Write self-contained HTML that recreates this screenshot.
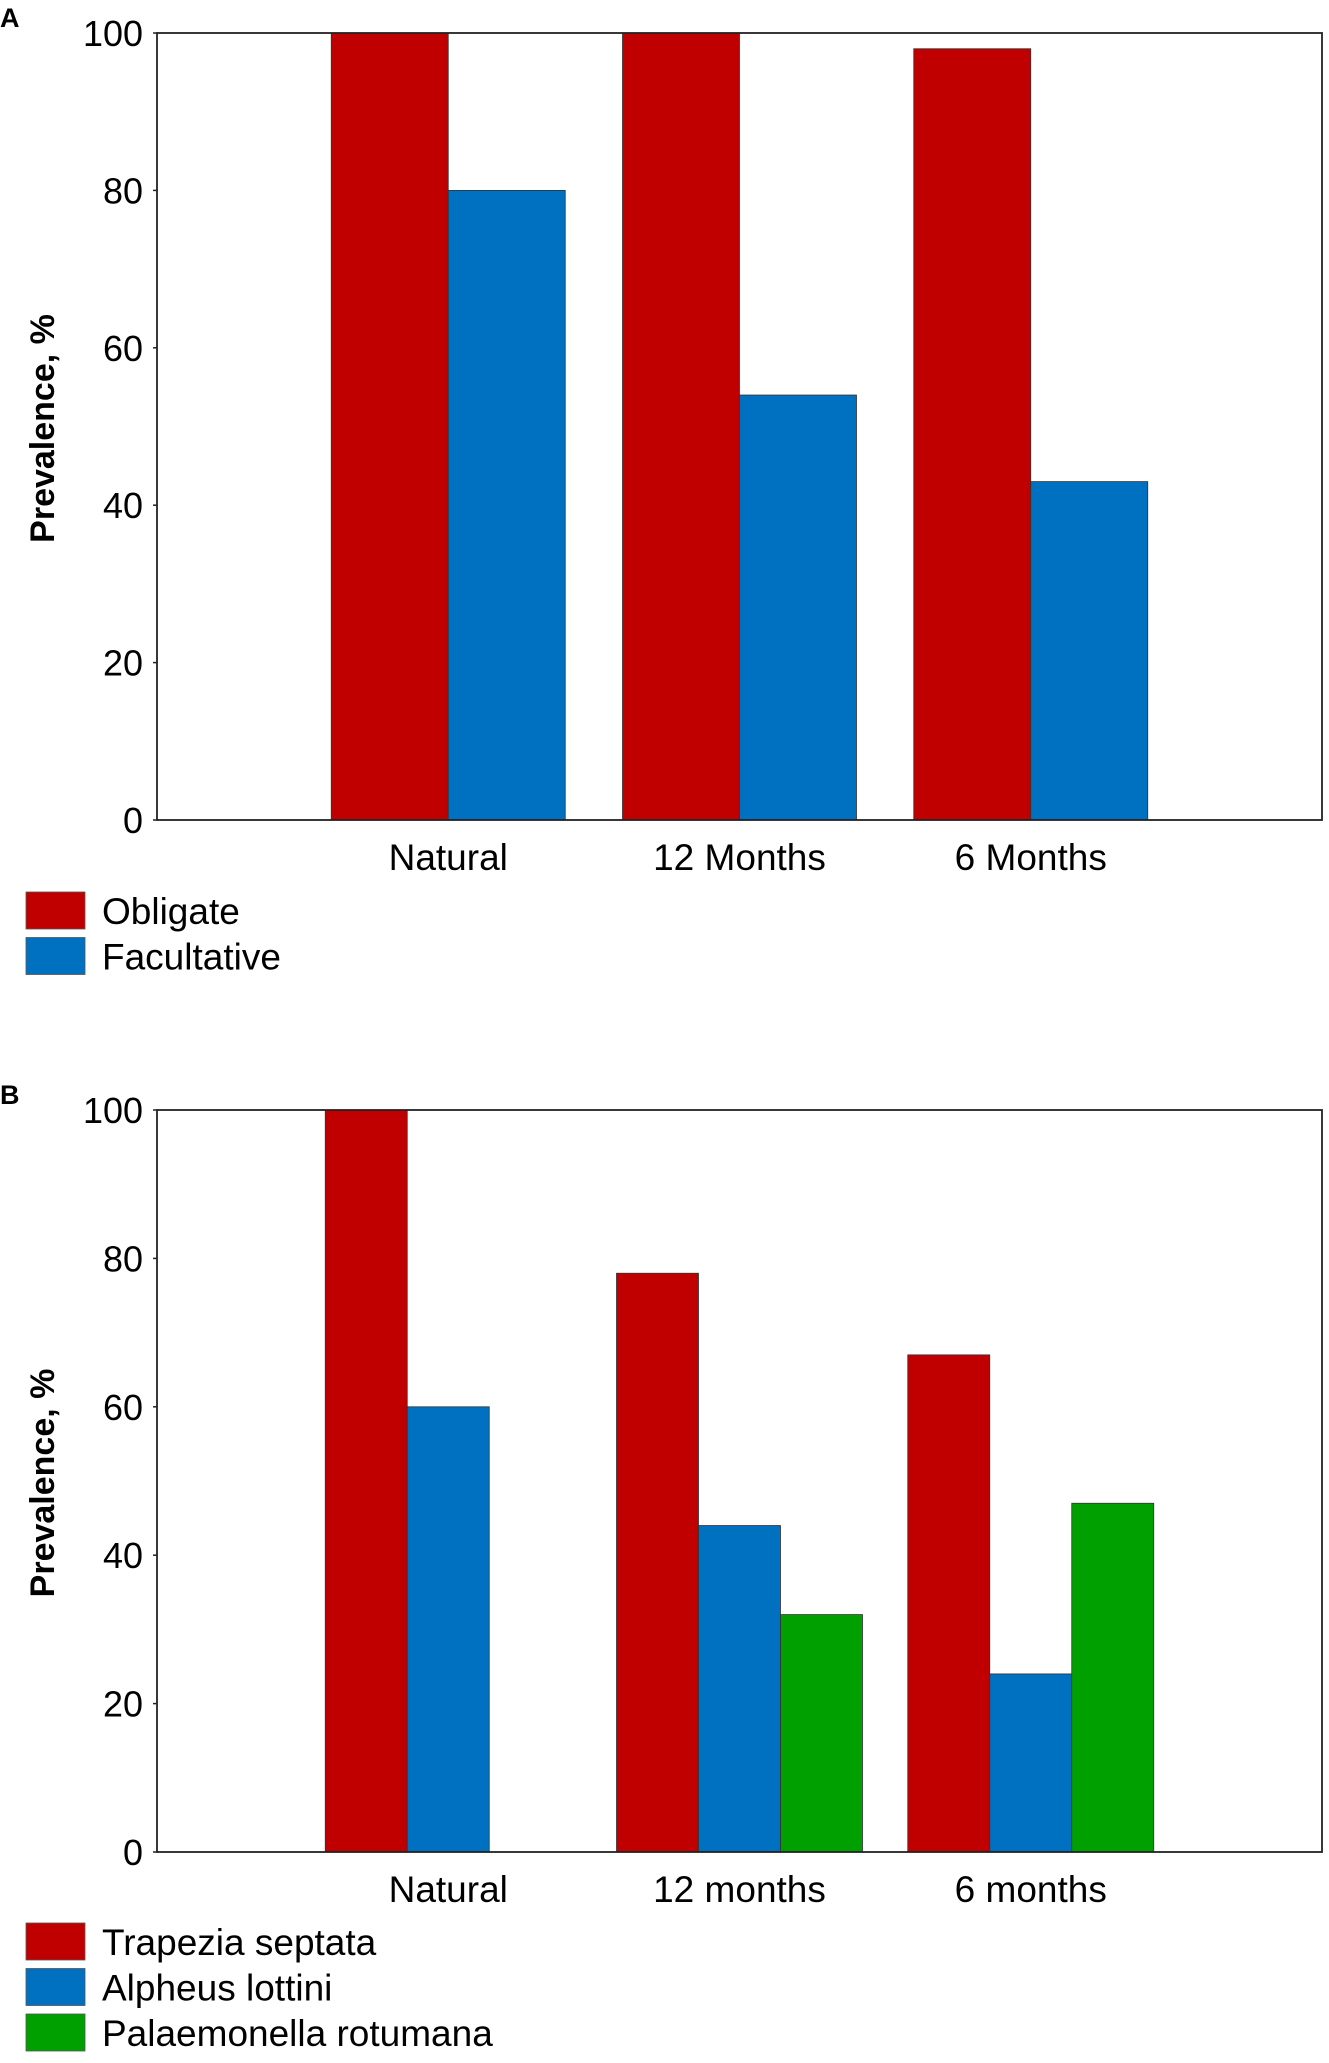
<!DOCTYPE html>
<html><head><meta charset="utf-8"><style>
body{margin:0;background:#fff;}
svg text{font-family:"Liberation Sans",Arial,sans-serif;}
</style></head><body>
<svg id="chart" width="1329" height="2058" viewBox="0 0 1329 2058" xmlns="http://www.w3.org/2000/svg">
<rect width="1329" height="2058" fill="#fff"/>
</svg>
<script>
const catsA = ["Natural","12 Months","6 Months"];
const obligate = [100,100,98];
const facultative = [80,54,43];
const catsB = ["Natural","12 months","6 months"];
const trapezia = [100,78,67];
const alpheus = [60,44,24];
const palaemonella = [0,32,47];
const yTicks = [0,20,40,60,80,100];

const NS="http://www.w3.org/2000/svg";
const svg=document.getElementById('chart');
function mk(tag,attrs,parent){const e=document.createElementNS(NS,tag);for(const k in attrs)e.setAttribute(k,attrs[k]);(parent||svg).appendChild(e);return e;}

function panel(cfg){
  const g=mk('g',{});
  
  
  const L=157,R=1322,T=cfg.top,B=cfg.bottom;
  const y=v=>B-(v/100)*(B-T);
  const step=(R-L)/4;
  const x=i=>L+step*(i+1);
  const pl=mk('text',{x:0,y:T-6,'font-size':27,'font-weight':'bold'},g);pl.textContent=cfg.letter;
  
  
  const n=cfg.series.length;
  const bw=cfg.bw;
  cfg.series.forEach((s,si)=>{
    s.values.forEach((v,ci)=>{
      if(v<=0)return;
      const x0=x(ci)-bw*n/2+si*bw;
      const r=mk('rect',{x:x0,y:y(v),width:bw,height:B-y(v),fill:s.color,stroke:'#333','stroke-width':0.8},g);
      
      
    });
  });
  const fr=mk('rect',{x:L,y:T,width:R-L,height:B-T,fill:'none',stroke:'#222','stroke-width':1.8},g);
  
  
  yTicks.forEach(t=>{
    mk('line',{x1:L-4,x2:L,y1:y(t),y2:y(t),stroke:'#222','stroke-width':1.5},g);
    const tx=mk('text',{x:L-14,y:y(t)+13,'font-size':36,'text-anchor':'end',textLength:t>=100?60:(t>0?40:20),lengthAdjust:'spacingAndGlyphs'},g);
    tx.textContent=t;
    
    
  });
  cfg.cats.forEach((c,i)=>{
    const tx=mk('text',{x:x(i),y:B+50,'font-size':37,'text-anchor':'middle'},g);
    tx.textContent=c;
    
    
  });
  const yt=mk('text',{x:0,y:0,'font-size':34,'font-weight':'bold','text-anchor':'middle',transform:`translate(54,${(T+B)/2+2}) rotate(-90)`},g);
  yt.textContent='Prevalence, %';
  
  
  cfg.series.forEach((s,si)=>{
    const ly=cfg.legendTop+si*45.5;
    const sw=mk('rect',{x:26,y:ly,width:59,height:37,fill:s.color,stroke:'#555','stroke-width':0.8},g);
    
    
    const lt=mk('text',{x:102,y:ly+32,'font-size':37},g);
    lt.textContent=s.label;
    
    
  });
}
panel({name:'panel-a',letter:'A',top:33,bottom:820,cats:catsA,bw:117,legendTop:892,
  series:[{key:'obligate',label:'Obligate',color:'#c00000',values:obligate},
          {key:'facultative',label:'Facultative',color:'#0070c0',values:facultative}]});
panel({name:'panel-b',letter:'B',top:1110,bottom:1852,cats:catsB,bw:82,legendTop:1923,
  series:[{key:'trapezia',label:'Trapezia septata',color:'#c00000',values:trapezia},
          {key:'alpheus',label:'Alpheus lottini',color:'#0070c0',values:alpheus},
          {key:'palaemonella',label:'Palaemonella rotumana',color:'#00a000',values:palaemonella}]});
</script>
</body></html>
